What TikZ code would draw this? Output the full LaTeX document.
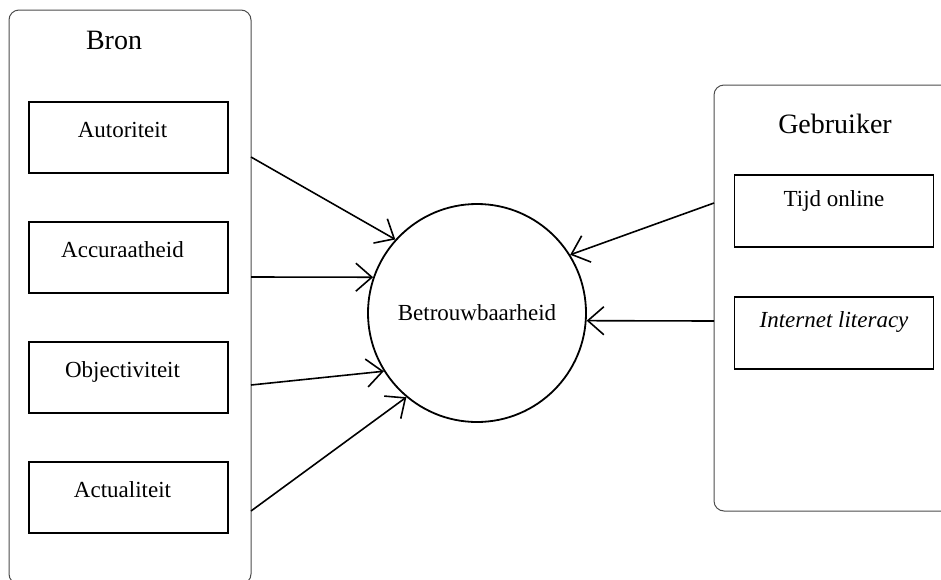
\documentclass[tikz,border=0pt]{standalone}
\usepackage{fontspec}
\setmainfont{Liberation Serif}
\usetikzlibrary{positioning,arrows.meta}

\newcommand{\leftlabel}[1]{\hspace*{-12pt}#1}

\begin{document}
\begin{tikzpicture}[x=1pt,y=-1pt,node distance=120pt,
  group/.style={draw=black!70,line width=1pt,rounded corners=10pt,inner sep=0pt},
  head/.style={font=\fontsize{28}{34}\selectfont,anchor=base},
  factor/.style={draw,line width=1.8pt,inner sep=0pt,minimum width=199pt,
    text height=35pt,text depth=36pt,font=\fontsize{23}{28}\selectfont},
  arr/.style={-{Straight Barb[length=16pt,width=28pt]},line width=1.6pt}]
\useasboundingbox (0,0) rectangle (941,579);
% the two groups
\node[group,minimum width=242pt,minimum height=574pt] (bron) at (130,297) {};
\node[group,minimum width=240pt,minimum height=426pt] (gebruiker) at (834,298) {};
\node[head] (bronhead) at (114,49) {Bron};
\node[head] (gebruikerhead) at (835,133) {Gebruiker};

\node[factor] (aut) at (128.5,137.5) {\leftlabel{Autoriteit}};
\node[factor,below of=aut] (acc) {\leftlabel{Accuraatheid}};
\node[factor,below of=acc] (obj) {\leftlabel{Objectiviteit}};
\node[factor,below of=obj] (act) {\leftlabel{Actualiteit}};

\node[factor,text height=31pt,text depth=41pt] (tijd) at (834,211) {Tijd online};
\node[factor,text height=31pt,text depth=41pt,below=48pt of tijd] (lit) {\itshape Internet literacy};

\node[draw,circle,line width=1.8pt,minimum size=218pt,inner sep=0pt,
  font=\fontsize{23}{28}\selectfont] (betr) at (477,313) {Betrouwbaarheid};

% where the arrows leave the groups
\coordinate (s1) at (251,157);
\coordinate (s2) at (251,277);
\coordinate (s3) at (251,385);
\coordinate (s4) at (251,511);
\coordinate (g1) at (714,203);
\coordinate (g2) at (714,321);

\draw[arr] (s1) to (betr.138);
\draw[arr] (s2) to (betr.161);
\draw[arr] (s3) to (betr.212);
\draw[arr] (s4) to (betr.230);
\draw[arr] (g1) to (betr.32);
\draw[arr] (g2) to (betr.356);
\end{tikzpicture}
\end{document}
